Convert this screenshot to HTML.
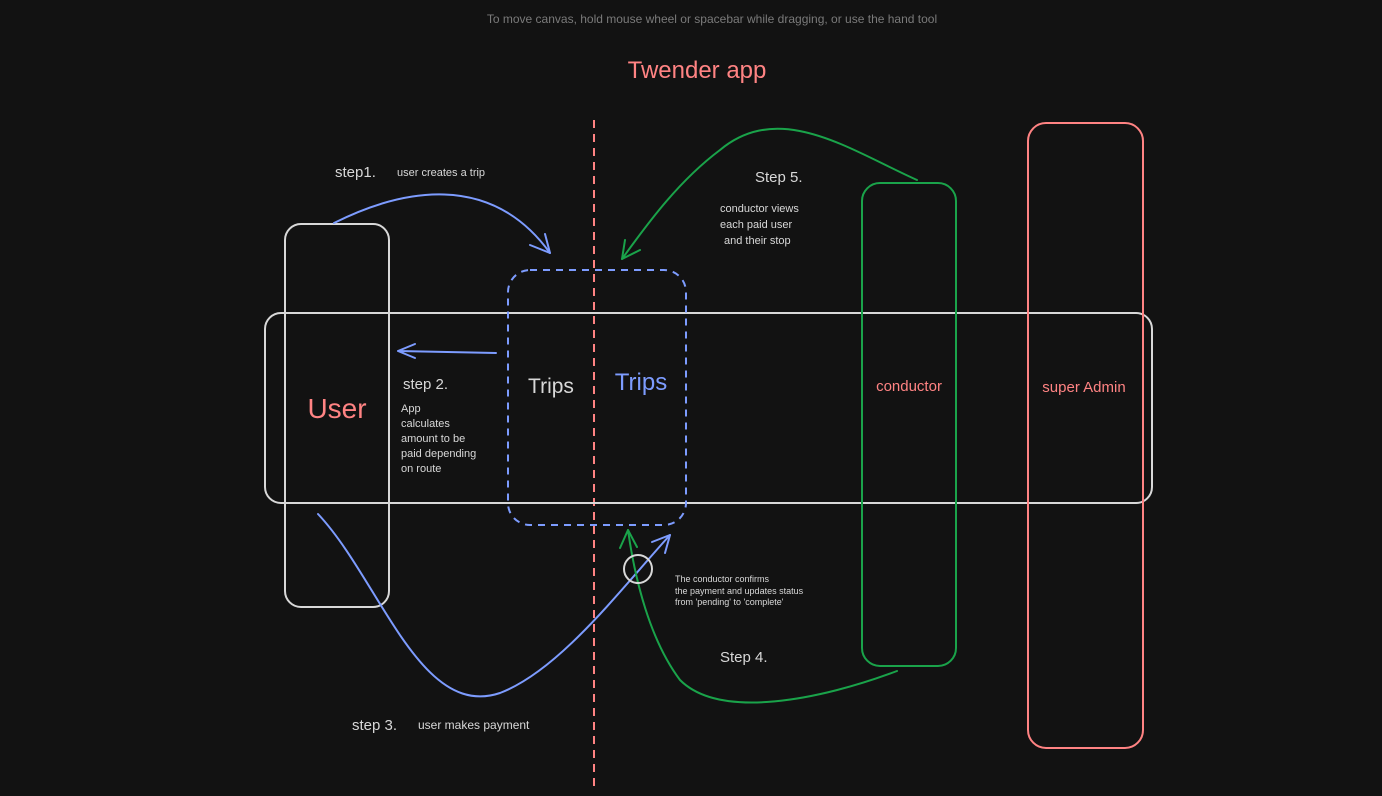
<!DOCTYPE html>
<html><head><meta charset="utf-8"><style>
html,body{margin:0;padding:0;background:#121212;}
svg{display:block}
text{font-family:"Liberation Sans",sans-serif;}
</style></head><body>
<svg width="1382" height="796" viewBox="0 0 1382 796">
<rect width="1382" height="796" fill="#121212"/>
<text x="712" y="23" fill="#7a7a7a" font-size="12" text-anchor="middle">To move canvas, hold mouse wheel or spacebar while dragging, or use the hand tool</text>
<text x="697" y="78" fill="#ff8383" font-size="24" text-anchor="middle">Twender app</text>
<line x1="594" y1="120" x2="594" y2="790" stroke="#ff8383" stroke-width="2" stroke-dasharray="8,6"/>
<rect x="265" y="313" width="887" height="190" rx="16" fill="none" stroke="#d8d8d8" stroke-width="2"/>
<rect x="285" y="224" width="104" height="383" rx="16" fill="none" stroke="#d8d8d8" stroke-width="2"/>
<rect x="508" y="270" width="178" height="255" rx="22" fill="none" stroke="#7d9cff" stroke-width="2" stroke-dasharray="7,6"/>
<rect x="862" y="183" width="94" height="483" rx="18" fill="none" stroke="#1aa34a" stroke-width="2"/>
<rect x="1028" y="123" width="115" height="625" rx="18" fill="none" stroke="#ff8383" stroke-width="2"/>
<text x="337" y="418" fill="#ff8383" font-size="28" text-anchor="middle">User</text>
<text x="551" y="393" fill="#d8d8d8" font-size="21" text-anchor="middle">Trips</text>
<text x="641" y="390" fill="#7d9cff" font-size="24" text-anchor="middle">Trips</text>
<text x="909" y="391" fill="#ff8383" font-size="15" text-anchor="middle">conductor</text>
<text x="1084" y="392" fill="#ff8383" font-size="15" text-anchor="middle">super Admin</text>
<g fill="#d8d8d8">
<text x="335" y="177" font-size="15">step1.</text>
<text x="397" y="176" font-size="11">user creates a trip</text>
<text x="403" y="389" font-size="15">step 2.</text>
<g font-size="11"><text x="401" y="412">App</text><text x="401" y="427">calculates</text><text x="401" y="442">amount to be</text><text x="401" y="457">paid depending</text><text x="401" y="472">on route</text></g>
<text x="755" y="182" font-size="15">Step 5.</text>
<g font-size="11"><text x="720" y="212">conductor views</text><text x="720" y="228">each paid user</text><text x="724" y="244">and their stop</text></g>
<g font-size="9"><text x="675" y="582">The conductor confirms</text><text x="675" y="594">the payment and updates status</text><text x="675" y="605">from 'pending' to 'complete'</text></g>
<text x="720" y="662" font-size="15">Step 4.</text>
<text x="352" y="730" font-size="15">step 3.</text>
<text x="418" y="729" font-size="12">user makes payment</text>
</g>
<g fill="none" stroke-width="2" stroke-linecap="round">
<path d="M334 223 C400 190,490 170,550 253" stroke="#7d9cff"/>
<path d="M550 253 L530 245 M550 253 L545 234" stroke="#7d9cff"/>
<path d="M496 353 L398 351 M398 351 L415 344 M398 351 L415 358" stroke="#7d9cff"/>
<path d="M318 514 C380 580,420 720,500 693 C560 670,620 590,670 535" stroke="#7d9cff"/>
<path d="M670 535 L652 542 M670 535 L665 553" stroke="#7d9cff"/>
<path d="M917 180 C850 150,780 100,720 150 C680 180,650 220,622 259" stroke="#1aa34a"/>
<path d="M622 259 L625 240 M622 259 L640 250" stroke="#1aa34a"/>
<path d="M897 671 C820 700,720 720,680 680 C650 640,635 580,628 530" stroke="#1aa34a"/>
<path d="M628 530 L620 548 M628 530 L637 547" stroke="#1aa34a"/>
<circle cx="638" cy="569" r="14" stroke="#d8d8d8"/>
</g>
</svg>
</body></html>
